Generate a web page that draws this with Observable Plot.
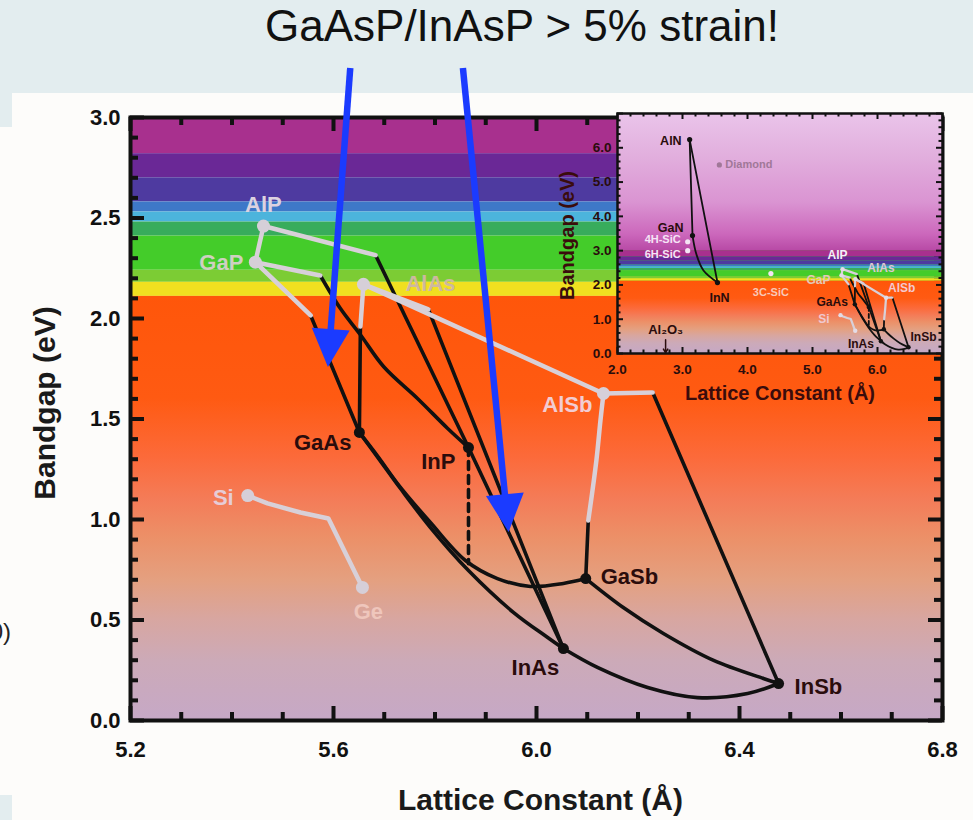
<!DOCTYPE html>
<html>
<head>
<meta charset="utf-8">
<script src="https://cdn.jsdelivr.net/npm/d3@7"></script>
<script src="https://cdn.jsdelivr.net/npm/@observablehq/plot@0.6"></script>
<style>
  html, body { margin:0; padding:0; }
  body { width:973px; height:820px; position:relative; overflow:hidden; background:#e3edef;
         font-family:"Liberation Sans", Arial, Helvetica, sans-serif; }
  #panel { position:absolute; left:12px; top:93px; width:961px; height:727px; background:#fdfcfa; }
  #panelL { position:absolute; left:0; top:127px; width:12px; height:668px; background:#fdfcfa; }
  #title { position:absolute; left:0; top:4px; width:1044px; text-align:center; font-size:44px;
           line-height:44px; color:#111; white-space:nowrap; }
  #stub { position:absolute; right:962px; top:618px; font-size:24px; line-height:28px; color:#222; white-space:nowrap; }
  #main { position:absolute; left:0; top:0; }
  #inset { position:absolute; left:540px; top:100px; }
</style>
</head>
<body>
<svg width="0" height="0" style="position:absolute;left:0;top:0">
  <defs>
    <linearGradient id="gLow" x1="0" y1="0" x2="0" y2="1">
      <stop offset="0" stop-color="#ff560a"/>
      <stop offset="0.24" stop-color="#ff5a12"/>
      <stop offset="0.38" stop-color="#fc6a3a"/>
      <stop offset="0.48" stop-color="#f47c58"/>
      <stop offset="0.57" stop-color="#ec9068"/>
      <stop offset="0.67" stop-color="#e4a080"/>
      <stop offset="0.76" stop-color="#d8a6a0"/>
      <stop offset="0.86" stop-color="#ccaab8"/>
      <stop offset="1" stop-color="#c6a8c6"/>
    </linearGradient>
    <linearGradient id="gUV" x1="0" y1="0" x2="0" y2="1">
      <stop offset="0" stop-color="#eac4ea"/>
      <stop offset="0.3" stop-color="#e2b0de"/>
      <stop offset="0.65" stop-color="#da94d2"/>
      <stop offset="0.88" stop-color="#cc68bc"/>
      <stop offset="1" stop-color="#b84aa6"/>
    </linearGradient>
  </defs>
</svg>
<div id="panel"></div>
<div id="panelL"></div>
<div id="title">GaAsP/InAsP &gt; 5% strain!</div>
<div id="stub">0)</div>
<div id="main"></div>
<div id="inset"></div>
<script>
// ---------------- DATA ----------------
const xDomain = [5.2, 6.8];
const yDomain = [0, 3.0];
const xMajorTicks = [5.2, 5.6, 6.0, 6.4, 6.8];
const yMajorTicks = [0.0, 0.5, 1.0, 1.5, 2.0, 2.5, 3.0];

// visible-spectrum background bands (eV)
const bandLo = [2.82, 2.70, 2.58, 2.53, 2.48, 2.41, 2.24, 2.18, 2.11];
const bandHi = [3.00, 2.82, 2.70, 2.58, 2.53, 2.48, 2.41, 2.24, 2.18];
const bandColor = ["#a8308e", "#6a2896", "#4e3aa0", "#3e78c8", "#4cb4dc", "#38ac5c", "#44cc2a", "#7ccc34", "#f0e020"];
const lowBand = [0, 2.11];   // orange -> lilac gradient
const uvBand = [3.0, 7.0];   // inset only

// binary compounds
const compoundNames = ["AlP", "GaP", "AlAs", "AlSb", "Si", "Ge", "GaAs", "InP", "GaSb", "InAs", "InSb"];
const latticeA =      [5.462, 5.446, 5.659, 6.132, 5.431, 5.657, 5.651, 5.866, 6.097, 6.053, 6.477];
const bandgapEg =     [2.46,  2.28,  2.17,  1.627, 1.119, 0.662, 1.433, 1.358, 0.706, 0.358, 0.184];
const directGap =     [false, false, false, false, false, false, true,  true,  true,  true,  true];

// alloy lines: [a, Eg] points. "ind" = indirect (grey), "dir" = direct (black)
const segAlP_GaP       = [[5.462, 2.46], [5.446, 2.28]];
const segAlP_InP_ind   = [[5.462, 2.46], [5.683, 2.315]];
const segAlP_InP_dir   = [[5.683, 2.315], [5.866, 1.358]];
const segGaP_InP_ind   = [[5.446, 2.28], [5.574, 2.214]];
const segGaP_InP_dir   = [[5.574, 2.214], [5.614, 2.048], [5.653, 1.919], [5.699, 1.760], [5.766, 1.601], [5.825, 1.453], [5.866, 1.358]];
const segGaP_GaAs_ind  = [[5.446, 2.28], [5.555, 2.015]];
const segGaP_GaAs_dir  = [[5.555, 2.015], [5.651, 1.433]];
const segAlAs_GaAs_ind = [[5.659, 2.17], [5.653, 1.96]];
const segAlAs_GaAs_dir = [[5.653, 1.96], [5.651, 1.433]];
const segAlAs_AlSb     = [[5.659, 2.17], [6.132, 1.627]];
const segAlAs_InAs_ind = [[5.659, 2.17], [5.787, 2.045]];
const segAlAs_InAs_dir = [[5.787, 2.045], [6.053, 0.358]];
const segInP_InAs      = [[5.866, 1.358], [6.053, 0.358]];
const segInP_match     = [[5.866, 1.358], [5.866, 0.78]];
const segGaAs_InAs     = [[5.651, 1.433], [5.689, 1.303], [5.732, 1.154], [5.791, 0.960], [5.866, 0.746], [5.955, 0.537], [6.022, 0.413], [6.053, 0.358]];
const segGaAs_GaSb     = [[5.651, 1.433], [5.689, 1.308], [5.726, 1.179], [5.791, 0.985], [5.860, 0.796], [5.923, 0.706], [5.988, 0.667], [6.053, 0.682], [6.097, 0.706]];
const segGaSb_InSb     = [[6.097, 0.706], [6.171, 0.562], [6.250, 0.433], [6.349, 0.299], [6.447, 0.209], [6.477, 0.184]];
const segInAs_InSb     = [[6.053, 0.358], [6.120, 0.264], [6.219, 0.164], [6.317, 0.114], [6.416, 0.134], [6.477, 0.184]];
const segAlSb_GaSb_ind = [[6.132, 1.627], [6.126, 1.493], [6.118, 1.294], [6.102, 0.995]];
const segAlSb_GaSb_dir = [[6.102, 0.995], [6.097, 0.706]];
const segAlSb_InSb_ind = [[6.132, 1.627], [6.229, 1.632]];
const segAlSb_InSb_dir = [[6.229, 1.632], [6.477, 0.184]];
const segSi_Ge         = [[5.431, 1.119], [5.470, 1.080], [5.535, 1.035], [5.590, 1.005], [5.657, 0.662]];

// annotation arrows (data coordinates)
const arrowFrom = [[5.634, 3.244], [5.856, 3.244]];
const arrowTo   = [[5.590, 1.756], [5.946, 0.935]];

// inset: nitrides & others
const insetXDomain = [2.0, 7.0];
const insetYDomain = [0.0, 7.0];
const insetXTicks = [2.0, 3.0, 4.0, 5.0, 6.0];
const insetYTicks = [0.0, 1.0, 2.0, 3.0, 4.0, 5.0, 6.0];
const nitrideNames = ["AlN", "GaN", "InN"];
const nitrideA =     [3.110, 3.154, 3.538];
const nitrideEg =    [6.24,  3.44,  2.07];
const segAlN_GaN = [[3.110, 6.24], [3.154, 3.44]];
const segAlN_InN = [[3.110, 6.24], [3.538, 2.07]];
const segGaN_InN = [[3.154, 3.44], [3.215, 2.886], [3.323, 2.42], [3.538, 2.07]];
const otherNames = ["Diamond", "4H-SiC", "6H-SiC", "3C-SiC"];
const otherA =     [3.567, 3.08, 3.08, 4.36];
const otherEg =    [5.50,  3.26, 3.00, 2.33];
const sapphireA = 2.74;       // Al2O3 marker position
const sapphireEg = [0.40, 0.02];

// ---------------- STYLE ----------------
const FONT = '"Liberation Sans", Arial, Helvetica, sans-serif';
const DARK = "#2a0c0c";
const GREY = "#d8d0d8";
const BLACK = "#111";
const BLUE = "#1b3bff";

const mainLabelStyle = {
  AlP:  {anchor: "middle", dx: 0,   dy: -21, fill: "#dcd2e0"},
  GaP:  {anchor: "end",    dx: -12, dy: 1,   fill: "#cfd0c0"},
  AlAs: {anchor: "start",  dx: 42,  dy: 0,   fill: "#cdb8a0"},
  AlSb: {anchor: "end",    dx: -11, dy: 11,  fill: "#f2ccd2"},
  Si:   {anchor: "end",    dx: -14, dy: 2,   fill: "#e6ccd6"},
  Ge:   {anchor: "middle", dx: 6,   dy: 25,  fill: "#efc6bc"},
  GaAs: {anchor: "end",    dx: -8,  dy: 10,  fill: DARK},
  InP:  {anchor: "end",    dx: -13, dy: 14,  fill: DARK},
  GaSb: {anchor: "start",  dx: 15,  dy: -2,  fill: DARK},
  InAs: {anchor: "middle", dx: -28, dy: 19,  fill: DARK},
  InSb: {anchor: "start",  dx: 16,  dy: 3,   fill: DARK}
};
const insetLabelStyle = {
  AlP:  {anchor: "middle", dx: -5, dy: -14, fill: "#f4f0f8"},
  AlAs: {anchor: "start",  dx: 12, dy: -11, fill: "#dcc8d0"},
  GaP:  {anchor: "end",    dx: -11, dy: 5,  fill: "#e4c8b8"},
  AlSb: {anchor: "start",  dx: 2,  dy: -10, fill: "#f4c8d0"},
  GaAs: {anchor: "end",    dx: -7, dy: -2,  fill: DARK},
  Si:   {anchor: "end",    dx: -11, dy: 4,  fill: "#f0c8d0"},
  InAs: {anchor: "end",    dx: -7, dy: 3,   fill: DARK},
  InSb: {anchor: "start",  dx: 2,  dy: -10, fill: DARK},
  AlN:  {anchor: "end",    dx: -8, dy: 1,   fill: DARK},
  GaN:  {anchor: "end",    dx: -9, dy: -8,  fill: DARK},
  InN:  {anchor: "middle", dx: 2,  dy: 15,  fill: DARK},
  "Diamond": {anchor: "start", dx: 6, dy: 0, fill: "#a07898"},
  "4H-SiC":  {anchor: "end", dx: -7, dy: -2, fill: "#f6e4f6"},
  "6H-SiC":  {anchor: "end", dx: -7, dy: 4, fill: "#f6e4f6"},
  "3C-SiC":  {anchor: "middle", dx: 0, dy: 19, fill: "#f8c8b8"}
};

// ---------------- BUILD ----------------
const bands = bandLo.map((lo, i) => ({lo, hi: bandHi[i], color: bandColor[i]}));
const compounds = compoundNames.map((name, i) => ({name, a: latticeA[i], eg: bandgapEg[i], direct: directGap[i]}));
const segments = [
  {pts: segAlP_GaP, kind: "ind"}, {pts: segAlP_InP_ind, kind: "ind"}, {pts: segGaP_InP_ind, kind: "ind"},
  {pts: segGaP_GaAs_ind, kind: "ind"}, {pts: segAlAs_GaAs_ind, kind: "ind"}, {pts: segAlAs_InAs_ind, kind: "ind"},
  {pts: segAlSb_GaSb_ind, kind: "ind"}, {pts: segAlSb_InSb_ind, kind: "ind"}, {pts: segSi_Ge, kind: "ind", linear: true},
  {pts: segAlP_InP_dir, kind: "dir"}, {pts: segGaP_InP_dir, kind: "dir"}, {pts: segGaP_GaAs_dir, kind: "dir"},
  {pts: segAlAs_GaAs_dir, kind: "dir"}, {pts: segAlAs_InAs_dir, kind: "dir"}, {pts: segInP_InAs, kind: "dir"},
  {pts: segGaAs_InAs, kind: "dir"}, {pts: segGaAs_GaSb, kind: "dir"}, {pts: segGaSb_InSb, kind: "dir"},
  {pts: segInAs_InSb, kind: "dir"}, {pts: segAlSb_GaSb_dir, kind: "dir"}, {pts: segAlSb_InSb_dir, kind: "dir"},
  {pts: segAlAs_AlSb, kind: "ind"},
  {pts: segInP_match, kind: "dash"}
];

function lineMarks(segs, scale) {
  const out = [];
  const order = ["dir", "dash", "ind"];
  for (const k of order) for (const s of segs.filter(s => s.kind === k)) {
    out.push(Plot.line(s.pts, {
      x: d => d[0], y: d => d[1],
      stroke: k === "ind" ? GREY : BLACK,
      strokeWidth: (k === "ind" ? 4.5 : 3.6) * scale,
      strokeDasharray: k === "dash" ? `${8 * scale},${6 * scale}` : null,
      curve: s.linear ? "linear" : "catmull-rom",
      strokeLinecap: "round", strokeLinejoin: "round"
    }));
  }
  return out;
}

function frameTicks(xMaj, xMin, yMaj, yMin, fw, fh, lenMaj, lenMin, sw, color) {
  const o = {stroke: color, strokeWidth: sw};
  return [
    Plot.tickX(xMin, {x: d => d, insetTop: fh - lenMin, ...o}),
    Plot.tickX(xMin, {x: d => d, insetBottom: fh - lenMin, ...o}),
    Plot.tickX(xMaj, {x: d => d, insetTop: fh - lenMaj, ...o}),
    Plot.tickX(xMaj, {x: d => d, insetBottom: fh - lenMaj, ...o}),
    Plot.tickY(yMin, {y: d => d, insetRight: fw - lenMin, ...o}),
    Plot.tickY(yMin, {y: d => d, insetLeft: fw - lenMin, ...o}),
    Plot.tickY(yMaj, {y: d => d, insetRight: fw - lenMaj, ...o}),
    Plot.tickY(yMaj, {y: d => d, insetLeft: fw - lenMaj, ...o})
  ];
}

function labelMarks(items, styles, fontSize) {
  return items.filter(d => styles[d.name]).map(d => {
    const s = styles[d.name];
    return Plot.text([d], {x: "a", y: "eg", text: "name", textAnchor: s.anchor, dx: s.dx, dy: s.dy,
      fill: s.fill, fontSize, fontWeight: "bold", fontFamily: FONT});
  });
}

function arrowsMark(index, scales) {
  const g = d3.create("svg:g");
  arrowFrom.forEach((f, i) => {
    const t = arrowTo[i];
    const x1 = scales.x(f[0]), y1 = scales.y(f[1]), x2 = scales.x(t[0]), y2 = scales.y(t[1]);
    const dx = x2 - x1, dy = y2 - y1, L = Math.hypot(dx, dy), ux = dx / L, uy = dy / L;
    const hl = 38, hw = 19;
    const bx = x2 - ux * hl, by = y2 - uy * hl;
    g.append("line").attr("x1", x1).attr("y1", y1).attr("x2", bx + ux * 3).attr("y2", by + uy * 3)
      .attr("stroke", BLUE).attr("stroke-width", 6.5);
    g.append("path")
      .attr("d", `M${x2},${y2}L${bx - uy * hw},${by + ux * hw}L${bx + uy * hw},${by - ux * hw}Z`)
      .attr("fill", BLUE);
  });
  return g.node();
}

// ---------- MAIN ----------
const W = 973, H = 820, mL = 130, mR = 31, mT = 117, mB = 100;
const fw = W - mL - mR, fh = H - mT - mB;
const xMinor = d3.range(52, 69).map(v => v / 10).filter(v => !xMajorTicks.some(m => Math.abs(m - v) < 1e-6));
const yMinor = d3.range(0, 31).map(v => v / 10).filter(v => !yMajorTicks.some(m => Math.abs(m - v) < 1e-6));

const main = Plot.plot({
  width: W, height: H, marginLeft: mL, marginRight: mR, marginTop: mT, marginBottom: mB,
  x: {domain: xDomain}, y: {domain: yDomain}, color: {type: "identity"},
  style: {background: "transparent", fontFamily: FONT, overflow: "visible"},
  marks: [
    Plot.rect(bands, {x1: xDomain[0], x2: xDomain[1], y1: "lo", y2: "hi", fill: "color"}),
    Plot.rect([lowBand], {x1: xDomain[0], x2: xDomain[1], y1: d => d[0], y2: d => d[1], fill: "url(#gLow)"}),
    ...lineMarks(segments, 1),
    Plot.dot(compounds.filter(d => !d.direct), {x: "a", y: "eg", r: 6.5, fill: "#d6cfd8"}),
    Plot.dot(compounds.filter(d => d.direct), {x: "a", y: "eg", r: 5.5, fill: BLACK}),
    ...labelMarks(compounds, mainLabelStyle, 22),
    Plot.frame({stroke: BLACK, strokeWidth: 4}),
    ...frameTicks(xMajorTicks, xMinor, yMajorTicks, yMinor, fw, fh, 14, 8, 4, BLACK),
    Plot.axisX(xMajorTicks, {tickSize: 0, tickPadding: 21, tickFormat: d3.format(".1f"), fontSize: 22,
      fontWeight: "bold", fill: BLACK, label: null}),
    Plot.axisY(yMajorTicks, {tickSize: 0, tickPadding: 10, tickFormat: d3.format(".1f"), fontSize: 22,
      fontWeight: "bold", fill: BLACK, label: null}),
    Plot.text(["Lattice Constant (Å)"], {frameAnchor: "bottom", dx: 4, dy: 80, fontSize: 30,
      fontWeight: "bold", fill: "#1a1a1a", lineAnchor: "middle", textAnchor: "middle"}),
    Plot.text(["Bandgap (eV)"], {frameAnchor: "left", dx: -85, dy: -16, rotate: -90, fontSize: 30,
      fontWeight: "bold", fill: "#1a1a1a", lineAnchor: "middle", textAnchor: "middle"}),
    arrowsMark
  ]
});
document.getElementById("main").appendChild(main);

// ---------- INSET ----------
const iW = 420, iH = 310, imL = 77, imR = 18, imT = 13, imB = 57;
const ifw = iW - imL - imR, ifh = iH - imT - imB;
const ixMinor = d3.range(10, 36).map(v => v / 5).filter(v => Math.abs(v - Math.round(v)) > 1e-6);
const iyMinor = d3.range(0, 36).map(v => v / 5).filter(v => Math.abs(v - Math.round(v)) > 1e-6);
const nitrides = nitrideNames.map((name, i) => ({name, a: nitrideA[i], eg: nitrideEg[i]}));
const others = otherNames.map((name, i) => ({name, a: otherA[i], eg: otherEg[i]}));
const insetSegs = segments.concat([
  {pts: segAlN_GaN, kind: "dir"}, {pts: segAlN_InN, kind: "dir"}, {pts: segGaN_InN, kind: "dir"}
]);

const inset = Plot.plot({
  width: iW, height: iH, marginLeft: imL, marginRight: imR, marginTop: imT, marginBottom: imB,
  x: {domain: insetXDomain}, y: {domain: insetYDomain}, color: {type: "identity"},
  style: {background: "transparent", fontFamily: FONT, overflow: "visible"},
  marks: [
    Plot.rect([uvBand], {x1: insetXDomain[0], x2: insetXDomain[1], y1: d => d[0], y2: d => d[1], fill: "url(#gUV)"}),
    Plot.rect(bands, {x1: insetXDomain[0], x2: insetXDomain[1], y1: "lo", y2: "hi", fill: "color"}),
    Plot.rect([lowBand], {x1: insetXDomain[0], x2: insetXDomain[1], y1: d => d[0], y2: d => d[1], fill: "url(#gLow)"}),
    ...lineMarks(insetSegs, 0.5),
    Plot.arrow([sapphireEg], {x1: sapphireA, x2: sapphireA, y1: d => d[0], y2: d => d[1], stroke: DARK,
      strokeWidth: 1.5, headLength: 5}),
    Plot.dot(compounds.filter(d => !d.direct), {x: "a", y: "eg", r: 2.2, fill: "#e4dce6"}),
    Plot.dot(compounds.filter(d => d.direct), {x: "a", y: "eg", r: 2.2, fill: BLACK}),
    Plot.dot(nitrides, {x: "a", y: "eg", r: 2.6, fill: BLACK}),
    Plot.dot(others, {x: "a", y: "eg", r: 2.6, fill: d => d.name === "Diamond" ? "#a07898" : "#f4e4f4"}),
    ...labelMarks(compounds, insetLabelStyle, 12),
    ...labelMarks(nitrides, insetLabelStyle, 12.5),
    ...labelMarks(others, insetLabelStyle, 11),
    Plot.text(["Al₂O₃"], {x: sapphireA, y: sapphireEg[0], dy: -10, fontSize: 13, fontWeight: "bold", fill: DARK}),
    Plot.frame({stroke: BLACK, strokeWidth: 2.5}),
    ...frameTicks([2,3,4,5,6,7], ixMinor, [0,1,2,3,4,5,6,7], iyMinor, ifw, ifh, 6, 3.5, 2, BLACK),
    Plot.axisX(insetXTicks, {tickSize: 0, tickPadding: 11, tickFormat: d3.format(".1f"), fontSize: 13.5,
      fontWeight: "bold", fill: DARK, label: null}),
    Plot.axisY(insetYTicks, {tickSize: 0, tickPadding: 6, tickFormat: d3.format(".1f"), fontSize: 13.5,
      fontWeight: "bold", fill: DARK, label: null}),
    Plot.text(["Lattice Constant (Å)"], {frameAnchor: "bottom", dx: 0, dy: 40, fontSize: 20,
      fontWeight: "bold", fill: "#3a0c0c", lineAnchor: "middle", textAnchor: "middle"}),
    Plot.text(["Bandgap (eV)"], {frameAnchor: "left", dx: -50, dy: 2, rotate: -90, fontSize: 20,
      fontWeight: "bold", fill: "#3a0c0c", lineAnchor: "middle", textAnchor: "middle"})
  ]
});
document.getElementById("inset").appendChild(inset);
</script>
</body>
</html>
